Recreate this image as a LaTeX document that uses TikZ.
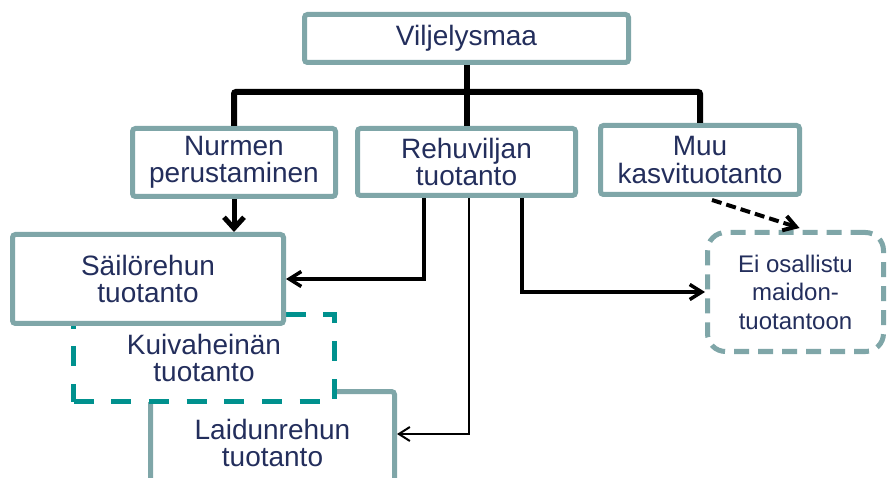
\documentclass[tikz,border=0pt]{standalone}
\usepackage{fontspec}
\setmainfont{Liberation Sans}
\usetikzlibrary{arrows.meta,calc}

\definecolor{edge}{HTML}{7FA6A8}
\definecolor{hayteal}{HTML}{00918E}
\definecolor{ink}{HTML}{232E5C}

\newcommand\boxfont{\fontsize{28}{27.5}\selectfont}
\newcommand\notefont{\fontsize{24}{28.5}\selectfont}

\begin{document}
\begin{tikzpicture}[x=1pt,y=-1pt,
  box/.style={draw=edge, line width=5pt, fill=white, rounded corners=3pt,
    inner sep=0pt, align=center, text=ink, font=\boxfont},
  label/.style={inner sep=0pt, align=center, text=ink, font=\boxfont},
  bus/.style={line width=6pt, rounded corners=2pt},
  bigarrow/.style={line width=5pt, -{Straight Barb[length=11pt,width=20pt]}},
  feed/.style={line width=3.5pt, -{Straight Barb[length=12pt,width=15pt]}},
  thinfeed/.style={line width=2pt, -{Straight Barb[length=11pt,width=14pt]}},
  dashfeed/.style={line width=4pt, dash pattern=on 10pt off 5pt,
    -{Straight Barb[length=12pt,width=15pt]}}]

\useasboundingbox (0,0) rectangle (889,478);
\clip (0,0) rectangle (889,478);

% pasture box, running off the bottom edge
\draw[draw=edge, line width=5pt, rounded corners=3pt]
  (150.5,520) |- (394.5,391.5) -- (394.5,520);
\node[label] (lai) at (272.5,443) {Laidunrehun\\tuotanto};
\coordinate (laiE) at (397,434);

% hay box (dashed) and silage box on top of it
\node[box, draw=hayteal, rounded corners=0pt, dash pattern=on 20pt off 17.7pt,
  minimum width=261pt, minimum height=87pt] (kui) at (204,358)
  {Kuivaheinän\\tuotanto};
\node[box, minimum width=271pt, minimum height=89pt] (sai) at (148,279)
  {Säilörehun\\tuotanto};

% top levels
\node[box, minimum width=324pt, minimum height=48pt] (vil) at (466.5,38.5)
  {Viljelysmaa};
\node[box, minimum width=203pt, minimum height=68pt] (nur) at (234,162.5)
  {Nurmen\\perustaminen};
\node[box, minimum width=218pt, minimum height=67pt] (reh) at (466.5,162)
  {Rehuviljan\\tuotanto};
\node[box, minimum width=199pt, minimum height=69pt] (muu) at (700,160)
  {Muu\\kasvituotanto};

% outside dairy production
\node[box, rounded corners=18pt, dash pattern=on 15pt off 9pt, font=\notefont,
  minimum width=176pt, minimum height=119pt] (ei) at (795.5,292)
  {Ei osallistu\\maidon-\\tuotantoon};

% connectors
\coordinate (busmid) at (466.5,92);
\draw[bus] (vil.south) -- (reh.north);
\draw[bus] (nur.north) |- (busmid) -| (muu.north);
\draw[bigarrow] (nur.south) -- (nur.south |- sai.north);
\draw[feed] ($(reh.south)+(-42.5,0)$) |- (sai.east);
\draw[thinfeed] ($(reh.south)+(2.5,0)$) |- (laiE);
\draw[feed] ($(reh.south)+(55.5,0)$) |- (ei.west);
\draw[dashfeed] ($(muu.south)+(12,3)$) -- ($(ei.north)+(4,-2)$);

\end{tikzpicture}
\end{document}
